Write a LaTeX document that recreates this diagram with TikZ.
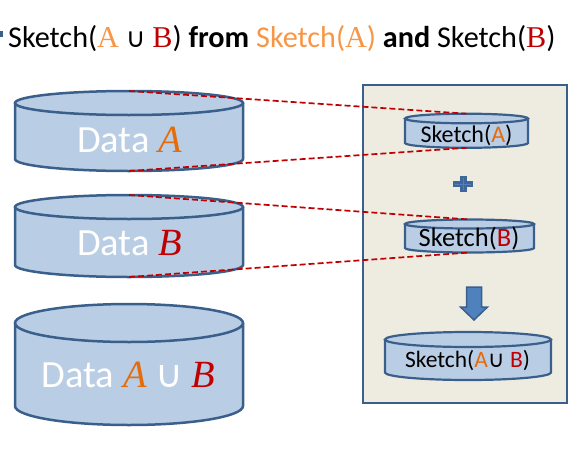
\documentclass[tikz,border=0pt]{standalone}
\usepackage{fontspec}
\setmainfont{Carlito}
\newfontfamily\cambria{Liberation Serif}
\newfontfamily\djv{DejaVu Sans}
\newcommand\cupsym{{\djv ∪}}
\definecolor{cylfill}{HTML}{B9CDE5}
\definecolor{cylline}{HTML}{3A5F8B}
\definecolor{panelfill}{HTML}{EEECE1}
\definecolor{accblue}{HTML}{4F81BD}
\definecolor{plusblue}{HTML}{40679A}
\definecolor{ltorange}{HTML}{F79646}
\definecolor{dkorange}{HTML}{E46C0A}
\definecolor{dkred}{HTML}{C00000}
\newcommand\mycyl[7]{% name, cx, halfwidth, ytop-center, ybot-center, ry, linewidth
  \fill[cylfill] (#2-#3,#4) -- (#2-#3,#5) arc[start angle=180,end angle=360,x radius=#3pt,y radius=#6pt]
     -- (#2+#3,#4) arc[start angle=0,end angle=180,x radius=#3pt,y radius=#6pt] -- cycle;
  \draw[cylline,line width=#7] (#2-#3,#4) -- (#2-#3,#5) arc[start angle=180,end angle=360,x radius=#3pt,y radius=#6pt] -- (#2+#3,#4);
  \draw[cylline,line width=#7] (#2,#4) ellipse[x radius=#3pt,y radius=#6pt];
  \coordinate (#1top) at (#2,#4+#6);
  \coordinate (#1bot) at (#2,#5-#6);
}
\tikzset{
  txt/.style={inner sep=0pt,anchor=base},
  dashline/.style={dkred,line width=1.7pt,dash pattern=on 6pt off 3pt},
}
\begin{document}
\begin{tikzpicture}[x=1pt,y=1pt]
\useasboundingbox (0,0) rectangle (586,-450);
% title
\fill[cylline] (0,-31) rectangle (3,-37);
\node[inner sep=0pt,anchor=base west] (title) at (8,-47) {\fontsize{30.2}{34}\selectfont Sketch({\cambria\color{ltorange}A} {\fontsize{27}{30}\selectfont\cupsym} {\cambria\color{dkred}B}) \textbf{from} {\color{ltorange}Sketch({\cambria A})} \textbf{and} Sketch({\cambria\color{dkred}B})};
% left cylinders
\mycyl{dA}{129}{114}{-103}{-159}{12}{2.5pt}
\mycyl{dB}{129}{114}{-207}{-265}{12}{2.5pt}
\mycyl{dAB}{129}{114}{-323}{-406}{19}{2.5pt}
\node[txt,text=white] (tA) at (129.5,-152) {\fontsize{38.5}{40}\selectfont Data {\cambria\itshape\color{dkorange}A}};
\node[txt,text=white] (tB) at (129.5,-255) {\fontsize{38.5}{40}\selectfont Data {\cambria\itshape\color{dkred}B}};
\node[txt,text=white] (tAB) at (128.5,-387) {\fontsize{38.5}{40}\selectfont Data {\cambria\itshape\color{dkorange}A} {\fontsize{38}{40}\selectfont\cupsym} {\cambria\itshape\color{dkred}B}};
% panel
\draw[cylline,line width=2.5pt,fill=panelfill] (363,-85) rectangle (567,-403);
\mycyl{sA}{466.5}{61.5}{-118.5}{-143}{4.8}{2.2pt}
\mycyl{sB}{469.5}{64.5}{-224}{-248}{4.5}{2.2pt}
\mycyl{sAB}{468}{83}{-339.5}{-372.5}{7.5}{2.2pt}
\node[txt] (tsA) at (466.5,-142) {\fontsize{24}{26}\selectfont Sketch({\color{dkorange}A})};
\node[txt] (tsB) at (469,-246.5) {\fontsize{26.5}{28}\selectfont Sketch({\color{dkred}B})};
\node[txt] (tsAB) at (467.5,-367) {\fontsize{23.5}{26}\selectfont Sketch({\color{dkorange}A}{\fontsize{23}{26}\selectfont\cupsym} {\color{dkred}B})};
% plus
\fill[plusblue] (453,-181) rectangle (473,-187);
\fill[plusblue] (460,-176) rectangle (467,-192);
\draw[accblue,line width=0.8pt] (455,-184) -- (471,-184) (463.5,-178) -- (463.5,-190);
% arrow
\draw[cylline,line width=1.5pt,fill=accblue] (466.5,-287) -- (481.5,-287) -- (481.5,-307) -- (487.5,-307) -- (474,-320) -- (460.5,-307) -- (466.5,-307) -- cycle;
% dashed connectors
\draw[dashline] (dAtop) -- (sAtop);
\draw[dashline] (dAbot) -- (sAbot);
\draw[dashline] (dBtop) -- (sBtop);
\draw[dashline] (dBbot) -- (sBbot);
\end{tikzpicture}
\end{document}
